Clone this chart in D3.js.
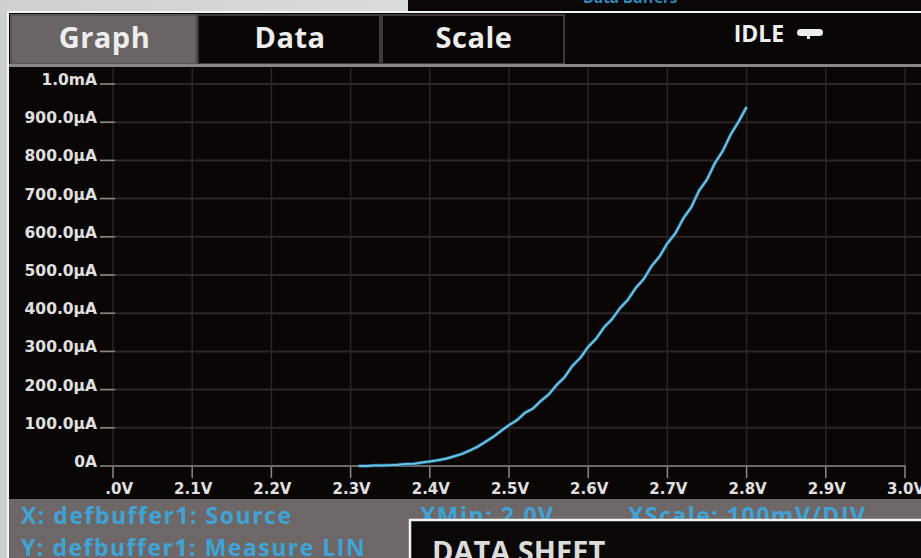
<!DOCTYPE html>
<html>
<head>
<meta charset="utf-8">
<script src="https://cdn.jsdelivr.net/npm/d3@7"></script>
<style>
  body { margin: 0; background: #d9d9d9; overflow: hidden; }
  svg { display: block; font-family: "Open Sans", sans-serif; font-weight: 700; }
  .ax { font-family: "DejaVu Sans", sans-serif; font-weight: 700; }
</style>
</head>
<body>
<svg id="chart" viewBox="0 0 921 558" width="921" height="558"></svg>
<script>
// tabs across the top of the instrument screen
const tabs = ["Graph", "Data", "Scale"]
const status = "IDLE"

// sweep: source voltage (V) and measured current (µA)
const voltage = [2.31, 2.32, 2.33, 2.34, 2.35, 2.36, 2.37, 2.38, 2.39, 2.40,
    2.41, 2.42, 2.43, 2.44, 2.45, 2.46, 2.47, 2.48, 2.49, 2.50,
    2.51, 2.52, 2.53, 2.54, 2.55, 2.56, 2.57, 2.58, 2.59, 2.60,
    2.61, 2.62, 2.63, 2.64, 2.65, 2.66, 2.67, 2.68, 2.69, 2.70,
    2.71, 2.72, 2.73, 2.74, 2.75, 2.76, 2.77, 2.78, 2.79, 2.80]
const current = [0, 0, 1, 1, 2, 3, 5, 6, 9, 12,
    15, 19, 25, 31, 40, 50, 63, 76, 92, 107,
    120, 139, 150, 170, 187, 212, 232, 262, 283, 312,
    333, 363, 384, 413, 435, 466, 489, 523, 548, 583,
    609, 648, 677, 721, 750, 793, 825, 868, 902, 940]

const xTicks = [2.0, 2.1, 2.2, 2.3, 2.4, 2.5, 2.6, 2.7, 2.8, 2.9, 3.0]
const yTicks = [0, 100, 200, 300, 400, 500, 600, 700, 800, 900, 1000]
const yTickLabels = ["0A", "100.0µA", "200.0µA", "300.0µA", "400.0µA", "500.0µA",
    "600.0µA", "700.0µA", "800.0µA", "900.0µA", "1.0mA"]

const footerLeft = ["X: defbuffer1: Source", "Y: defbuffer1: Measure LIN"]
const footerRight = ["XMin: 2.0V", "XScale: 100mV/DIV"]

const svg = d3.select("#chart")
const width = 921, height = 558

// photo surroundings: grey page + corner of another screen
const defs = svg.append("defs")
const grad = defs.append("linearGradient").attr("id", "paper").attr("x1", 0).attr("x2", 1)
grad.append("stop").attr("offset", 0).attr("stop-color", "#cfcfcf")
grad.append("stop").attr("offset", 1).attr("stop-color", "#ececec")
svg.append("rect").attr("width", width).attr("height", height).attr("fill", "url(#paper)")
svg.append("rect").attr("x", 408).attr("y", 0).attr("width", width - 408).attr("height", 12)
    .attr("fill", "#0b0707")
svg.append("text").attr("x", 583).attr("y", 3).attr("fill", "#2f8cc0")
    .attr("font-size", 15).text("Data Buffers")

// screen
svg.append("rect").attr("x", 7).attr("y", 11).attr("width", width).attr("height", height)
    .attr("fill", "#f4f4f4")
svg.append("rect").attr("x", 9).attr("y", 13).attr("width", width).attr("height", height)
    .attr("fill", "#0b0606")

// tab bar
const tabW = [187, 184, 184]
let tx = 11
tabs.forEach((t, i) => {
    svg.append("rect").attr("x", tx).attr("y", 15).attr("width", tabW[i] - 2).attr("height", 49)
        .attr("fill", i === 0 ? "#6a6466" : "#0a0505")
        .attr("stroke", i === 0 ? "#5a5456" : "#3e3838").attr("stroke-width", 2)
    svg.append("text").attr("x", tx + tabW[i] / 2).attr("y", 48)
        .attr("text-anchor", "middle").attr("fill", "#ededed").attr("font-size", 29)
        .attr("letter-spacing", 0.5)
        .text(t)
    tx += tabW[i]
})
svg.append("text").attr("x", 759).attr("y", 42).attr("text-anchor", "middle")
    .attr("fill", "#eeeeee").attr("font-size", 23).text(status)
svg.append("rect").attr("x", 797).attr("y", 29).attr("width", 26).attr("height", 7)
    .attr("rx", 3.5).attr("fill", "#eeeeee")
svg.append("rect").attr("x", 807).attr("y", 35).attr("width", 3).attr("height", 4)
    .attr("fill", "#eeeeee")
svg.append("line").attr("x1", 9).attr("x2", width).attr("y1", 65.5).attr("y2", 65.5)
    .attr("stroke", "#8a8686").attr("stroke-width", 3)

// scales
const x = d3.scaleLinear().domain([2.0, 3.0]).range([113, 905])
const y = d3.scaleLinear().domain([0, 1000]).range([466, 84])

const plot = svg.append("g")

// grid
plot.selectAll(".hgrid").data(yTicks.slice(1)).join("line")
    .attr("x1", 100).attr("x2", width).attr("y1", d => y(d)).attr("y2", d => y(d))
    .attr("stroke", "#2c2626").attr("stroke-width", 2)
plot.selectAll(".vgrid").data(xTicks).join("line")
    .attr("x1", d => x(d)).attr("x2", d => x(d)).attr("y1", 68).attr("y2", 466)
    .attr("stroke", "#2a2525").attr("stroke-width", 1.5)

// y axis ticks and labels
plot.selectAll(".ytick").data(yTicks).join("line")
    .attr("x1", 100).attr("x2", 115).attr("y1", d => y(d)).attr("y2", d => y(d))
    .attr("stroke", "#8c8888").attr("stroke-width", 1.5)
plot.selectAll(".ylab").data(yTicks).join("text")
    .attr("class", "ax")
    .attr("x", 97).attr("y", d => y(d) + 1)
    .attr("text-anchor", "end").attr("fill", "#e0e0e0").attr("font-size", 15.5)
    .text((d, i) => yTickLabels[i])

// zero line
plot.append("line").attr("x1", 100).attr("x2", 906).attr("y1", y(0)).attr("y2", y(0))
    .attr("stroke", "#6c6868").attr("stroke-width", 2)

// x axis ticks and labels (left label is cut by the y labels column)
defs.append("clipPath").attr("id", "xclip").append("rect")
    .attr("x", 106).attr("y", 460).attr("width", width).attr("height", 40)
plot.selectAll(".xtick").data(xTicks).join("line")
    .attr("x1", d => x(d)).attr("x2", d => x(d)).attr("y1", 467).attr("y2", 478)
    .attr("stroke", "#8c8888").attr("stroke-width", 1.5)
plot.append("g").attr("clip-path", "url(#xclip)")
    .selectAll("text").data(xTicks).join("text")
    .attr("class", "ax")
    .attr("x", d => x(d) + 1).attr("y", 494)
    .attr("text-anchor", "middle").attr("fill", "#e0e0e0").attr("font-size", 15)
    .text(d => d.toFixed(1) + "V")

// sweep curve
const pts = voltage.map((v, i) => [v, current[i]])
const line = d3.line().x(d => x(d[0])).y(d => y(d[1]))
plot.append("path").datum(pts).attr("d", line)
    .attr("fill", "none").attr("stroke", "#1d5a7a").attr("stroke-width", 3.5)
    .attr("stroke-linejoin", "round")
plot.append("path").datum(pts).attr("d", line)
    .attr("fill", "none").attr("stroke", "#6cc3e6").attr("stroke-width", 2)
    .attr("stroke-linejoin", "round")

// footer band
svg.append("rect").attr("x", 9).attr("y", 499).attr("width", width).attr("height", 60)
    .attr("fill", "#6d6767")
footerLeft.forEach((t, i) => {
    svg.append("text").attr("x", 21).attr("y", 524 + i * 32).attr("fill", "#3ea4d8")
        .attr("font-size", 23).attr("letter-spacing", 1.5).text(t)
})
svg.append("text").attr("x", 420).attr("y", 524).attr("fill", "#3ea4d8")
    .attr("font-size", 23).attr("letter-spacing", 1.5).text(footerRight[0])
svg.append("text").attr("x", 628).attr("y", 524).attr("fill", "#3ea4d8")
    .attr("font-size", 23).attr("letter-spacing", 1.5).text(footerRight[1])

// overlapping "DATA SHEET" page
svg.append("rect").attr("x", 410).attr("y", 520).attr("width", width).attr("height", 60)
    .attr("fill", "#0c0808").attr("stroke", "#f4f4f4").attr("stroke-width", 2.5)
svg.append("text").attr("x", 432).attr("y", 562).attr("fill", "#dcdcdc")
    .attr("font-size", 29).attr("font-weight", 700).text("DATA SHEET")
</script>
</body>
</html>
